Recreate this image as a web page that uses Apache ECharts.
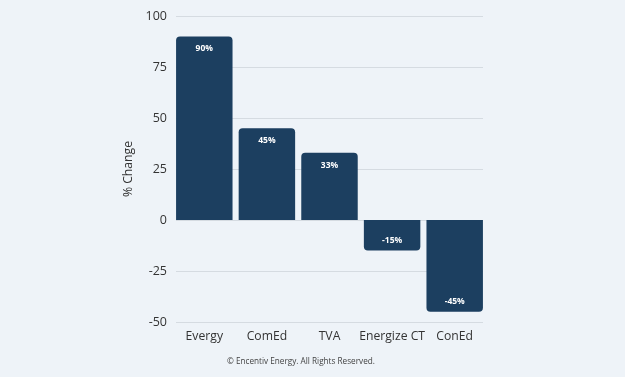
<!DOCTYPE html>
<html><head><meta charset="utf-8">
<script src="https://cdn.jsdelivr.net/npm/echarts@6/dist/echarts.min.js"></script>
<style>html,body{margin:0;padding:0;background:#eef3f8;}#c{width:625px;height:377px;}</style>
</head><body><div id="c"></div>
<script>
var categories = ["Evergy", "ComEd", "TVA", "Energize CT", "ConEd"];
var values = [90, 45, 33, -15, -45];
var yTicks = [-50, -25, 0, 25, 50, 75, 100];

var chart = echarts.init(document.getElementById('c'));
var data = values.map(function (v) {
  return {
    value: v,
    itemStyle: { borderRadius: v >= 0 ? [4, 4, 0, 0] : [0, 0, 4, 4] },
    label: { position: v >= 0 ? 'insideTop' : 'insideBottom', distance: v >= 0 ? 8 : 6 }
  };
});
var yMin = yTicks[0], yMax = yTicks[yTicks.length - 1];
chart.setOption({
  backgroundColor: '#eef3f8',
  animation: false,
  grid: [
    { left: 176, right: 142, top: 16, bottom: 55 },
    { left: 173, right: 139, top: 16, bottom: 55 }
  ],
  xAxis: [{
    gridIndex: 0, type: 'category', data: categories, show: false
  }, {
    gridIndex: 1, type: 'category', data: categories,
    axisLine: { show: false }, axisTick: { show: false },
    axisLabel: { interval: 0, color: '#333', fontSize: 12.2, fontFamily: 'Open Sans', margin: 9 }
  }],
  yAxis: [{
    gridIndex: 0, type: 'value', min: yMin, max: yMax, interval: 25,
    name: '% Change', nameLocation: 'middle', nameGap: 41, nameRotate: 90,
    nameTextStyle: { color: '#333', fontSize: 12.2, fontFamily: 'Open Sans' },
    axisLabel: { color: '#333', fontSize: 12.5, fontFamily: 'Open Sans', margin: 9 },
    splitLine: { lineStyle: { color: '#d5dbe1', width: 1 } },
    axisLine: { show: false }, axisTick: { show: false }
  }, {
    gridIndex: 1, type: 'value', min: yMin, max: yMax, interval: 25, show: false,
    splitLine: { show: false }
  }],
  series: [{
    type: 'bar', xAxisIndex: 1, yAxisIndex: 1, data: data, barCategoryGap: '9.8%',
    itemStyle: { color: '#1c3f60' },
    label: {
      show: true, color: '#fff', fontSize: 8.5, fontWeight: 'bold', fontFamily: 'Open Sans',
      formatter: function (p) { return p.value + '%'; }
    }
  }],
  graphic: [{
    type: 'text', left: 227, top: 358,
    style: { text: '© Encentiv Energy. All Rights Reserved.', fill: '#444', fontSize: 8.2, fontFamily: 'Open Sans' }
  }]
});
</script></body></html>
